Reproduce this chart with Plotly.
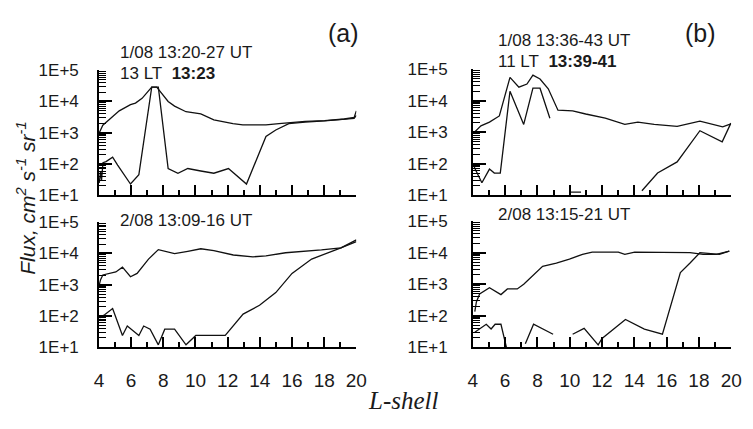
import plotly.graph_objects as go

# ---- Panel (a), 1/08 pass: upper (total) and lower curves ----
a1_up_L = [4.0, 4.24, 5.26, 5.96, 6.27, 6.68, 7.28, 7.59, 8.30, 8.70, 9.41, 10.33, 11.14, 12.33, 12.94,
           14.38, 15.19, 15.80, 16.82, 18.03, 19.25, 19.86, 20.0]
a1_up_F = [950, 1740, 5000, 7900, 8900, 12600, 28800, 28800, 10000, 7100, 4700, 4000, 2600, 1950, 1800,
           1800, 1950, 2100, 2300, 2450, 2750, 3100, 5000]
a1_lo_L = [4.02, 4.1, 4.16, 4.25, 4.44, 4.85, 5.16, 5.96, 6.48, 7.28, 7.69, 8.30, 8.91, 9.52, 10.33,
           11.14, 12.05, 13.17, 14.38, 14.99, 15.80, 16.82, 18.03, 19.25, 19.86, 20.0]
a1_lo_F = [25, 60, 30, 110, 120, 165, 93, 23, 46, 28800, 28800, 72, 51, 72, 60,
           51, 72, 23, 760, 1230, 1950, 2200, 2400, 2650, 2900, 3600]

# ---- Panel (a), 2/08 pass ----
a2_up_L = [4.0, 4.1, 4.24, 4.65, 5.05, 5.46, 5.96, 6.37, 7.08, 7.69, 8.70, 9.52, 10.33, 11.14, 12.35,
           13.57, 14.38, 15.60, 16.82, 17.83, 19.04, 20.0]
a2_up_F = [900, 1450, 2050, 2300, 2550, 3650, 1800, 2300, 6600, 13200, 9800, 11700, 14100, 12300, 8900,
           7800, 8300, 10500, 11700, 12900, 15100, 24000]
a2_lo_L = [4.04, 4.35, 4.85, 5.46, 5.76, 6.48, 6.78, 7.18, 7.69, 8.09, 8.70, 9.41, 10.02, 10.73, 11.85,
           12.96, 13.98, 14.99, 16.0, 17.22, 18.03, 19.04, 20.0]
a2_lo_F = [87, 110, 174, 24, 48, 24, 48, 38, 12, 38, 38, 12, 24, 24, 24,
           115, 220, 560, 2300, 6600, 9300, 15100, 27000]

# ---- Panel (b), 1/08 pass (None marks a data gap) ----
b1_up_L = [4.05, 4.5, 5.03, 5.64, 6.30, 6.85, 7.35, 7.72, 8.16, 8.67, 9.27, 10.18, 10.99, 12.2, 13.41,
           14.22, 15.23, 16.65, 18.06, 19.47, 19.98]
b1_up_F = [950, 1600, 2100, 3300, 55000, 27000, 34000, 65000, 49000, 24000, 5000, 4800, 3800, 2800, 1780,
           2100, 1780, 1550, 2250, 1480, 1860]
b1_lo_L = [4.05, 4.12, 4.56, 5.03, 5.33, 5.70, 6.30, 7.15, 7.72, 8.16, 8.77, None,
           10.0, 10.7, None,
           14.47, 15.44, 16.65, 18.06, 19.44, 19.98]
b1_lo_F = [90, 72, 25, 68, 51, 51, 20000, 1780, 25000, 25000, 2800, None,
           12.6, 12.6, None,
           14, 51, 115, 1120, 500, 1950]

# ---- Panel (b), 2/08 pass ----
b2_up_L = [4.12, 4.22, 4.42, 5.03, 5.74, 6.14, 6.75, 7.15, 8.32, 9.17, 9.98, 10.79, 11.39, 13.01, 13.41,
           14.02, 17.45, 18.26, 19.07, 19.88]
b2_up_F = [135, 275, 490, 780, 470, 710, 710, 1000, 3700, 4700, 6300, 8900, 10500, 10500, 8900,
           10500, 10000, 8900, 8900, 11200]
b2_lo_L = [4.12, 4.83, 5.13, 5.38, 5.74, 6.08, None,
           7.25, 7.76, 8.97, None,
           10.18, 10.89, 11.76, 12.0, 13.45, 14.62, 15.74, 16.85, 17.45, 18.06, 19.27, 19.88]
b2_lo_F = [30, 54, 38, 54, 54, 10, None,
           13, 54, 26, None,
           26, 40, 12, 19, 76, 38, 26, 2350, 4700, 10000, 8900, 11200]

y_tickvals = [10, 100, 1000, 10000, 100000]
y_ticktext = ["1E+1", "1E+2", "1E+3", "1E+4", "1E+5"]
x_tickvals = [4, 6, 8, 10, 12, 14, 16, 18, 20]

W, H = 753, 429
FONT = "Arial, Liberation Sans, sans-serif"
INK = "#1a1a1a"

panels = [
    # (x-axis id, y-axis id, x pixel span, y pixel span, show x labels, y label standoff, series)
    ("x", "y", (96, 359), (64, 195), False, 15, [(a1_up_L, a1_up_F), (a1_lo_L, a1_lo_F)]),
    ("x2", "y2", (478, 742), (63, 195), False, 20, [(b1_up_L, b1_up_F), (b1_lo_L, b1_lo_F)]),
    ("x3", "y3", (96, 359), (223, 354), True, 15, [(a2_up_L, a2_up_F), (a2_lo_L, a2_lo_F)]),
    ("x4", "y4", (478, 742), (222, 354), True, 20, [(b2_up_L, b2_up_F), (b2_lo_L, b2_lo_F)]),
]

fig = go.Figure()
layout = dict(
    width=W, height=H, autosize=False,
    margin=dict(l=0, r=0, t=0, b=0),
    paper_bgcolor="white", plot_bgcolor="white",
    showlegend=False,
    font=dict(family=FONT, color=INK),
)

for xid, yid, (x0, x1), (y0, y1), show_x, ystand, series in panels:
    for L, F in series:
        fig.add_trace(go.Scatter(
            x=L, y=F, xaxis=xid, yaxis=yid, mode="lines",
            line=dict(color="#111111", width=1.3), connectgaps=False,
            hoverinfo="skip",
        ))
    xkey = "xaxis" + xid[1:]
    ykey = "yaxis" + yid[1:]
    layout[xkey] = dict(
        domain=[x0 / W, x1 / W], anchor=yid, range=[4, 20],
        showgrid=False, zeroline=False, showline=True, linecolor="black", linewidth=1.5,
        tickmode="array", tickvals=x_tickvals, ticks="inside", ticklen=11, tickwidth=1.5,
        tickcolor="black",
        minor=dict(dtick=1, tick0=4, ticks="inside", ticklen=6, tickwidth=1.5, tickcolor="black",
                   showgrid=False),
        showticklabels=show_x, tickfont=dict(size=19, family=FONT, color=INK),
        ticklabelstandoff=15,
    )
    layout[ykey] = dict(
        domain=[1 - y1 / H, 1 - y0 / H], anchor=xid, type="log", range=[1, 5],
        showgrid=False, zeroline=False, showline=True, linecolor="black", linewidth=1.5,
        tickmode="array", tickvals=y_tickvals, ticktext=y_ticktext,
        ticks="inside", ticklen=13, tickwidth=1.5, tickcolor="black",
        minor=dict(dtick="D1", ticks="inside", ticklen=7, tickwidth=1, tickcolor="black",
                   showgrid=False),
        tickfont=dict(size=17, family=FONT, color=INK),
        ticklabelstandoff=ystand,
    )

fig.update_layout(**layout)


def px_note(text, x, y, size=17, xanchor="left", **kw):
    fig.add_annotation(
        text=text, x=x / W, y=1 - y / H, xref="paper", yref="paper",
        xanchor=xanchor, yanchor="middle", showarrow=False,
        font=dict(size=size, family=kw.pop("family", FONT), color=INK), **kw,
    )


NB = "\u00a0"
px_note("(a)", 346, 25, size=25, xanchor="center")
px_note("(b)", 711, 25, size=25, xanchor="center")
px_note("1/08 13:20-27 UT", 115, 45)
px_note(f"13 LT{NB}{NB}<b>13:23</b>", 115, 68)
px_note("1/08 13:36-43 UT", 502, 33)
px_note(f"11 LT{NB}{NB}<b>13:39-41</b>", 502, 55)
px_note("2/08 13:09-16 UT", 115, 221)
px_note("2/08 13:15-21 UT", 502, 215)

px_note("<i>Flux, cm<sup>2</sup> s<sup>-1</sup> sr<sup>-1</sup></i>", 22, 198, size=21,
        xanchor="center", textangle=-90)
px_note("<i>L-shell</i>", 407, 410, size=25, xanchor="center",
        family="Liberation Serif, Times New Roman, serif")

fig.write_html("out.html")
